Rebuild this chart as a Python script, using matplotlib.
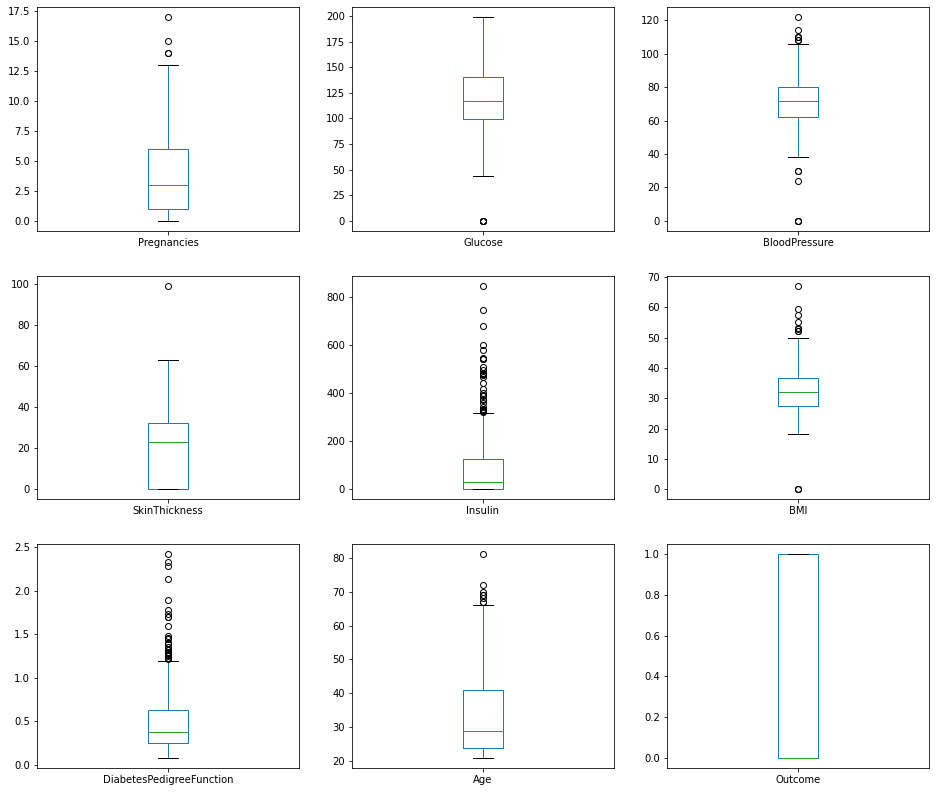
import matplotlib
matplotlib.use("Agg")
import matplotlib.pyplot as plt

# ── dados (estatísticas) ──────────────────────────────────────────────────
colunas = ['Pregnancies', 'Glucose', 'BloodPressure',
           'SkinThickness', 'Insulin', 'BMI',
           'DiabetesPedigreeFunction', 'Age', 'Outcome']
q1 = [1, 99, 62, 0, 0, 27.3, 0.244, 24, 0]
mediana = [3, 117, 72, 23, 30.5, 32.0, 0.3725, 29, 0]
q3 = [6, 140.25, 80, 32, 127.25, 36.6, 0.626, 41, 1]
bigode_inf = [0, 44, 38, 0, 0, 18.2, 0.078, 21, 0]
bigode_sup = [13, 199, 106, 63, 318, 50.0, 1.191, 66, 1]

outliers_preg = [14, 14, 15, 17]
outliers_gluc = [0, 0, 0, 0, 0]
outliers_bp = [0, 0, 0, 24, 30, 30, 108, 108, 110, 110, 110, 114, 122]
outliers_skin = [99]
outliers_ins = [321, 325, 326, 328, 330, 335, 342, 360, 370, 375, 387, 392,
                402, 415, 440, 465, 474, 478, 480, 485, 495, 510, 540, 543,
                545, 579, 600, 680, 744, 846]
outliers_bmi = [0, 0, 0, 52.3, 52.3, 52.9, 53.2, 55.0, 57.3, 59.4, 67.1]
outliers_dpf = [1.213, 1.222, 1.224, 1.251, 1.258, 1.268, 1.282, 1.292,
                1.318, 1.321, 1.353, 1.39, 1.394, 1.4, 1.441, 1.461, 1.476,
                1.6, 1.698, 1.699, 1.731, 1.781, 1.893, 2.137, 2.288, 2.329,
                2.42]
outliers_age = [67, 67, 68, 69, 69, 70, 72, 81]
outliers_out = []
outliers = [outliers_preg, outliers_gluc, outliers_bp, outliers_skin,
            outliers_ins, outliers_bmi, outliers_dpf, outliers_age,
            outliers_out]

# ── gráfico ────────────────────────────────────────────────────────────────
fig, axes = plt.subplots(3, 3, figsize=(13, 11), dpi=72)
fig.subplots_adjust(left=0.0395, right=0.9925, top=0.9912, bottom=0.0303,
                    wspace=0.202, hspace=0.2)

for i, ax in enumerate(axes.flat):
    stats = [{
        'label': colunas[i],
        'q1': q1[i], 'med': mediana[i], 'q3': q3[i],
        'whislo': bigode_inf[i], 'whishi': bigode_sup[i],
        'fliers': outliers[i],
    }]
    ax.bxp(stats,
           boxprops=dict(color='#1f77b4'),
           whiskerprops=dict(color='#1f77b4'),
           capprops=dict(color='black'),
           medianprops=dict(color='#2ca02c'),
           flierprops=dict(marker='o', markerfacecolor='none',
                           markeredgecolor='black'))

plt.savefig("out.png", dpi=72)
